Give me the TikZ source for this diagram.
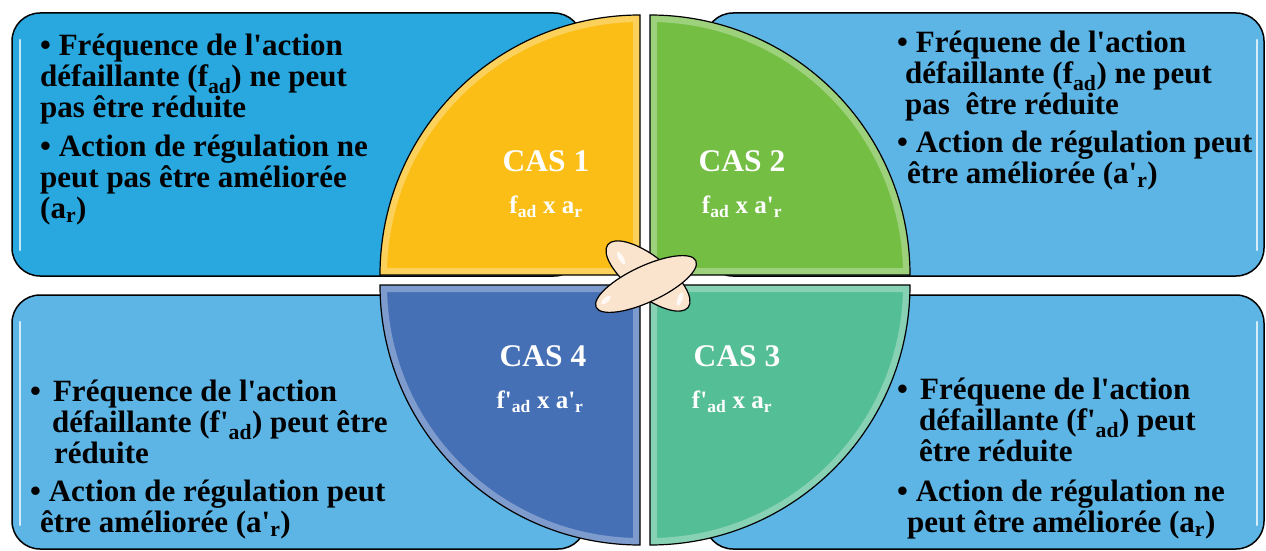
\documentclass[tikz,border=0pt]{standalone}
\usepackage{fontspec}
\setmainfont{Liberation Serif}[Ligatures=TeXOff]
\usepackage{xcolor}
\usepackage{tikz}

\definecolor{boxA}{RGB}{41,168,224}
\definecolor{boxB}{RGB}{93,181,229}
\definecolor{casA}{RGB}{250,190,22}
\definecolor{casB}{RGB}{116,190,68}
\definecolor{casC}{RGB}{84,190,150}
\definecolor{casD}{RGB}{70,112,182}
\definecolor{pill}{RGB}{251,228,205}

\tikzset{
  panel/.style={draw=black, line width=1.5, rounded corners=28},
  shine/.style={draw=white, draw opacity=0.75, line width=2.5, line cap=round},
  quart/.style={draw=black, line width=1.2},
  bevel/.style={draw=white, draw opacity=0.3, line width=14},
  body/.style={anchor=north west, inner sep=0, align=left, font=\fontsize{31}{31}\selectfont\bfseries},
  cas/.style={text=white, inner sep=0, font=\fontsize{31.5}{31.5}\selectfont\bfseries},
  prod/.style={text=white, inner sep=0, font=\fontsize{25}{25}\selectfont\bfseries},
}

\begin{document}
\begin{tikzpicture}[x=1pt,y=1pt,yscale=-1,xscale=1]
\useasboundingbox (0,0) rectangle (1266,551);
%Rounded Rect (top left)
\draw [panel, fill=boxA] (12,13) rectangle (582,276);
\draw [shine] (20,40) -- (20,250);
%Rounded Rect (top right)
\draw [panel, fill=boxB] (705,13) rectangle (1264,276);
\draw [shine] (1257,40) -- (1257,250);
%Rounded Rect (bottom left)
\draw [panel, fill=boxB] (12,295) rectangle (586,549);
\draw [shine] (20,322) -- (20,525);
%Rounded Rect (bottom right)
\draw [panel, fill=boxB] (705,295) rectangle (1264,549);
\draw [shine] (1257,322) -- (1257,525);

%Quarter CAS 1
\fill [casA] (640,275) -- (380,275) arc [start angle=180, end angle=270, radius=260] -- cycle;
\begin{scope}
\clip (640,275) -- (380,275) arc [start angle=180, end angle=270, radius=260] -- cycle;
\draw [bevel] (640,275) -- (380,275) arc [start angle=180, end angle=270, radius=260] -- cycle;
\end{scope}
\draw [quart] (640,275) -- (380,275) arc [start angle=180, end angle=270, radius=260] -- cycle;
%Quarter CAS 2
\fill [casB] (650,275) -- (650,15) arc [start angle=270, end angle=360, radius=260] -- cycle;
\begin{scope}
\clip (650,275) -- (650,15) arc [start angle=270, end angle=360, radius=260] -- cycle;
\draw [bevel] (650,275) -- (650,15) arc [start angle=270, end angle=360, radius=260] -- cycle;
\end{scope}
\draw [quart] (650,275) -- (650,15) arc [start angle=270, end angle=360, radius=260] -- cycle;
%Quarter CAS 4
\fill [casD] (640,285) -- (380,285) arc [start angle=180, end angle=90, radius=260] -- cycle;
\begin{scope}
\clip (640,285) -- (380,285) arc [start angle=180, end angle=90, radius=260] -- cycle;
\draw [bevel] (640,285) -- (380,285) arc [start angle=180, end angle=90, radius=260] -- cycle;
\end{scope}
\draw [quart] (640,285) -- (380,285) arc [start angle=180, end angle=90, radius=260] -- cycle;
%Quarter CAS 3
\fill [casC] (650,285) -- (910,285) arc [start angle=0, end angle=90, radius=260] -- cycle;
\begin{scope}
\clip (650,285) -- (910,285) arc [start angle=0, end angle=90, radius=260] -- cycle;
\draw [bevel] (650,285) -- (910,285) arc [start angle=0, end angle=90, radius=260] -- cycle;
\end{scope}
\draw [quart] (650,285) -- (910,285) arc [start angle=0, end angle=90, radius=260] -- cycle;

%Ellipses in the middle
\draw [fill=pill, line width=1.2] (648,276) ellipse [x radius=51, y radius=20, rotate=38];
\fill [white, opacity=0.8] (621,258) ellipse [x radius=7, y radius=2.5, rotate=60];
\draw [fill=pill, line width=1.2] (646,284) ellipse [x radius=55, y radius=18, rotate=-25];
\fill [white, opacity=0.8] (606,300) ellipse [x radius=6, y radius=2.5, rotate=-40];
\fill [white, opacity=0.8] (680,299) ellipse [x radius=2.5, y radius=7, rotate=20];

% Text Node
\node [cas] (cas1) at (546,161) {CAS 1};
\node [prod] (prod1) at (546,207) {f\textsubscript{ad} x a\textsubscript{r}};
\node [cas] (cas2) at (742,161) {CAS 2};
\node [prod] (prod2) at (742,207) {f\textsubscript{ad} x a'\textsubscript{r}};
\node [cas] (cas4) at (543,356) {CAS 4};
\node [prod] (prod4) at (540,402) {f'\textsubscript{ad} x a'\textsubscript{r}};
\node [cas] (cas3) at (737,356) {CAS 3};
\node [prod] (prod3) at (732,402) {f'\textsubscript{ad} x a\textsubscript{r}};

% Text Node
\node [body] (tl1) at (40,34) {• Fréquence de l'action\\défaillante (f\textsubscript{ad}) ne peut\\pas être réduite};
\node [body] (tl2) at (40,135) {• Action de régulation ne\\peut pas être améliorée\\(a\textsubscript{r})};
% Text Node
\node [body] (tr1) at (897,31) {• Fréquene de l'action\\\hspace*{8pt}défaillante (f\textsubscript{ad}) ne peut\\\hspace*{8pt}pas\ \ être réduite};
\node [body] (tr2) at (897,131) {• Action de régulation peut\\\hspace*{10pt}être améliorée (a'\textsubscript{r})};
% Text Node
\node [body] (bl1) at (30,380) {•\hspace{12pt}Fréquence de l'action\\\hspace*{22pt}défaillante (f'\textsubscript{ad}) peut être\\\hspace*{24pt}réduite};
\node [body] (bl2) at (30,480) {• Action de régulation peut\\\hspace*{10pt}être améliorée (a'\textsubscript{r})};
% Text Node
\node [body] (br1) at (897,378) {•\hspace{12pt}Fréquene de l'action\\\hspace*{22pt}défaillante (f'\textsubscript{ad}) peut\\\hspace*{22pt}être réduite};
\node [body] (br2) at (897,480) {• Action de régulation ne\\\hspace*{10pt}peut être améliorée (a\textsubscript{r})};
\end{tikzpicture}
\end{document}
